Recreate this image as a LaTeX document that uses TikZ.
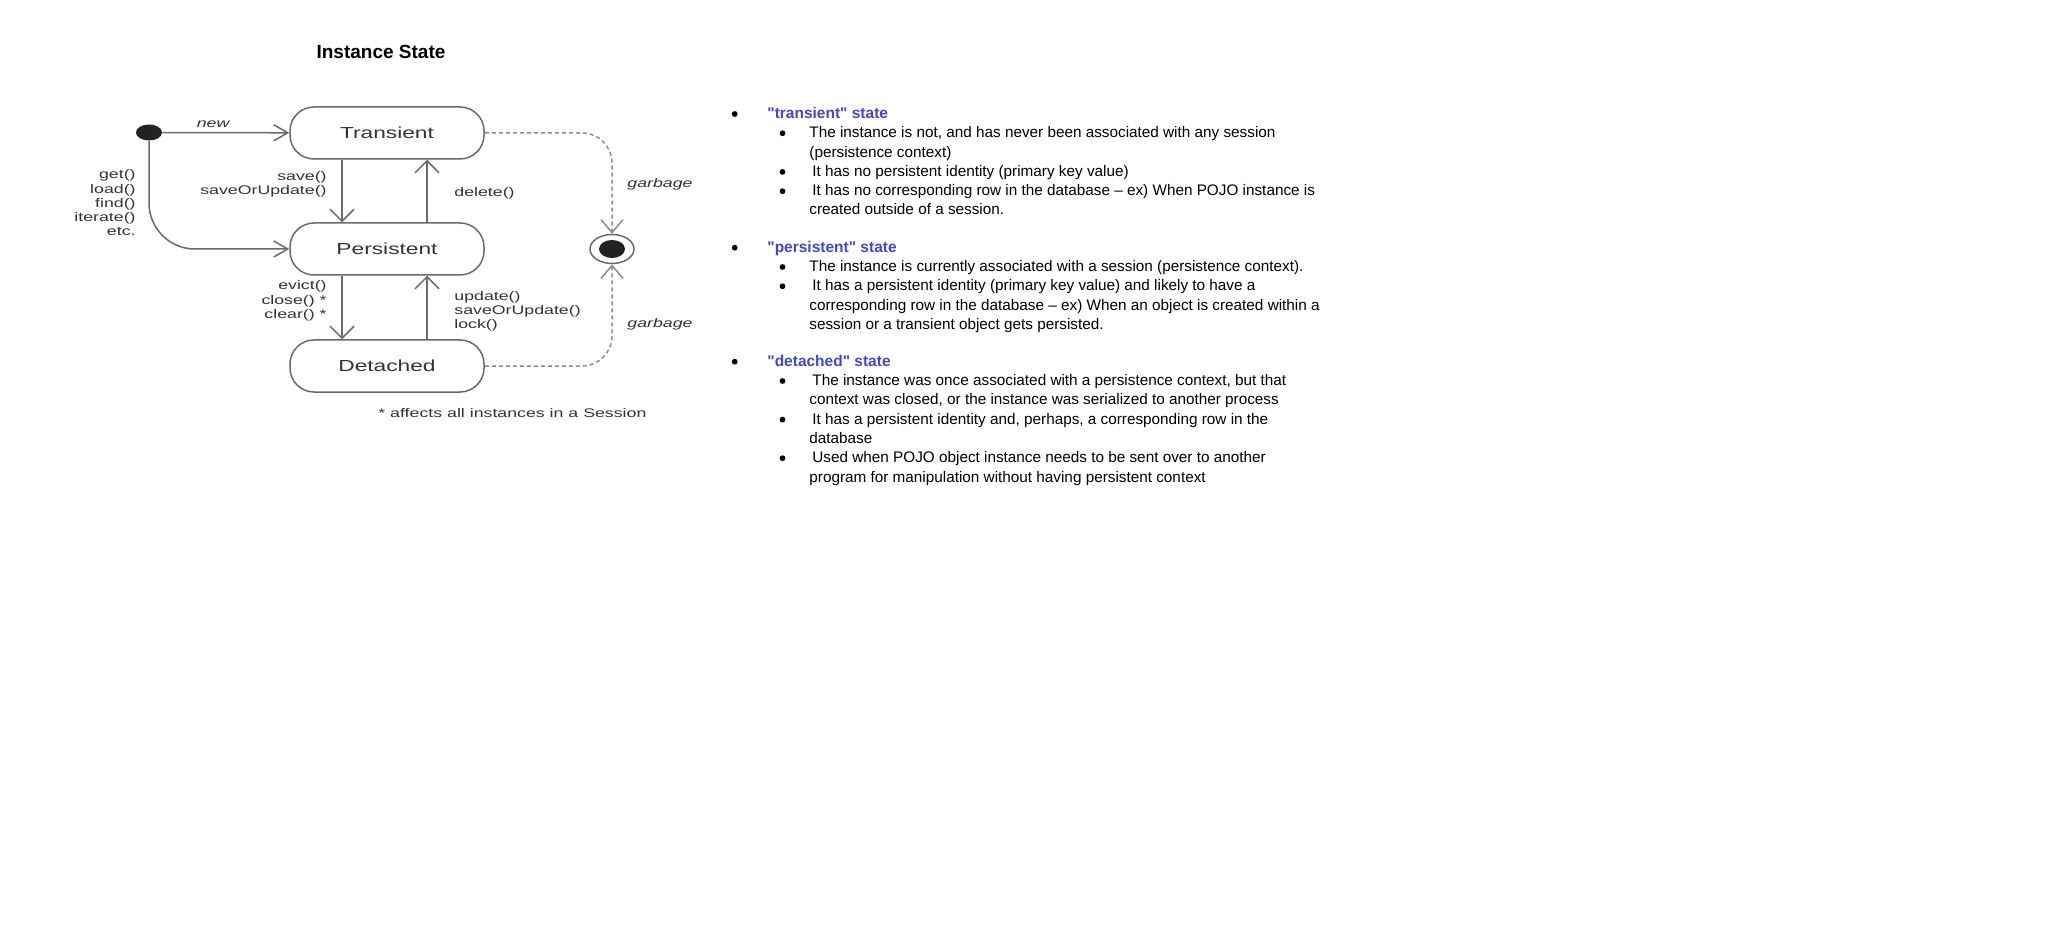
\documentclass[tikz,border=0pt]{standalone}
\usepackage{fontspec}
\setmainfont{Liberation Sans}[Ligatures=TeXOff]
\usetikzlibrary{arrows.meta,shapes.geometric}
\definecolor{stroke}{HTML}{6A6A6A}
\definecolor{ink}{HTML}{333333}
\definecolor{gc}{HTML}{8C8C8C}
\definecolor{blob}{HTML}{222222}
\definecolor{headblue}{RGB}{70,70,200}
\newcommand\wide[1]{\scalebox{1.42}[1]{#1}}
\newcommand\lines[2]{\scalebox{1.42}[1]{\begin{tabular}[t]{@{}#1@{}}#2\end{tabular}}}

\begin{document}
\begin{tikzpicture}[x=0.5pt,y=-0.5pt]
	\tikzset{state/.style={draw=stroke,line width=0.75pt,rounded corners=12pt,minimum width=97pt,minimum height=26pt,inner sep=0pt,text=ink,font=\fontsize{8}{9.6}\selectfont}}
	\tikzset{lbl/.style={inner sep=0pt,text=ink,font=\fontsize{6.25}{7.1}\selectfont}}
	\tikzset{move/.style={draw=stroke,line width=0.75pt,-{Straight Barb[length=6pt,width=12pt]}}}
	\tikzset{enter/.style={draw=stroke,line width=0.75pt,-{Straight Barb[length=7pt,width=8pt]}}}
	\tikzset{gbg/.style={draw=gc,line width=0.75pt,dash pattern=on 2pt off 1.5pt,rounded corners=15pt,-{Straight Barb[length=6.5pt,width=11pt]}}}
	\tikzset{txt/.style={inner sep=0pt,anchor=base west,font=\fontsize{7.65}{9.65}\selectfont}}
	\tikzset{hd/.style={txt,text=headblue,font=\bfseries\fontsize{7.75}{9.65}\selectfont}}
	\tikzset{dot/.style={circle,fill=black,inner sep=0pt,minimum size=2.9pt}}
	\path[fill=white] (0,0) rectangle (2048,930);
	% state diagram
	\node[font=\bfseries\fontsize{9.5}{11}\selectfont,anchor=base] (title) at (381,58.5) {Instance State};
	\node[ellipse,fill=blob,inner sep=0pt,minimum width=13pt,minimum height=8pt] (init) at (149,132.5) {};
	\node[state] (tr) at (387,133) {\wide{Transient}};
	\node[state] (pe) at (387,249) {\wide{Persistent}};
	\node[state] (de) at (387,366) {\wide{Detached}};
	\node[ellipse,draw=stroke,line width=0.75pt,inner sep=0pt,minimum width=22pt,minimum height=14.5pt] (fin) at (612,249) {};
	\fill[blob] (fin.center) ellipse [x radius=6.5pt,y radius=4.5pt];
	\draw[enter] (init) -- node[lbl,above=2.2pt,pos=0.4,font=\itshape\fontsize{6.25}{7.1}\selectfont] (newlbl) {\wide{new}} (tr);
	\draw[enter,rounded corners=23pt] (init.south) |- (pe.west);
	\draw[move] ([xshift=-22.5pt]tr.south) -- ([xshift=-22.5pt]pe.north);
	\draw[move] ([xshift=20pt]pe.north) -- ([xshift=20pt]tr.south);
	\draw[move] ([xshift=-22.5pt]pe.south) -- ([xshift=-22.5pt]de.north);
	\draw[move] ([xshift=20pt]de.north) -- ([xshift=20pt]pe.south);
	\draw[gbg] (tr.east) -| (fin.north);
	\draw[gbg] (de.east) -| (fin.south);
	\node[lbl,anchor=base east] (loadlbl) at (136,179) {\lines{r}{get()\\load()\\find()\\iterate()\\etc.}};
	\node[lbl,anchor=base east] (savelbl) at (327,180.7) {\lines{r}{save()\\saveOrUpdate()}};
	\node[lbl,anchor=base west] (dellbl) at (454,197) {\lines{l}{delete()}};
	\node[lbl,anchor=base east] (evictlbl) at (327,290) {\lines{r}{evict()\\close() *\\clear() *}};
	\node[lbl,anchor=base west] (updlbl) at (454,300) {\lines{l}{update()\\saveOrUpdate()\\lock()}};
	\node[lbl,anchor=base west,font=\itshape\fontsize{6.25}{7.1}\selectfont] (gb1) at (627,188) {\wide{garbage}};
	\node[lbl,anchor=base west,font=\itshape\fontsize{6.25}{7.1}\selectfont] (gb2) at (627,328) {\wide{garbage}};
	\node[lbl,anchor=base west] (note) at (378,417) {\wide{* affects all instances in a Session}};
	% bullet list
	\foreach \y [count=\i] in {118.5,252.2,366.2}
		\node[dot] (hb\i) at (734.7,\y-4.5) {};
	\foreach \y [count=\i] in {137.8,176.4,195.7,271.5,290.8,385.5,424.1,462.7}
		\node[dot] (ib\i) at (782.5,\y-4.5) {};
	\node[hd] (h1) at (767,118.5) {"transient" state};
	\node[hd] (h2) at (767,252.2) {"persistent" state};
	\node[hd] (h3) at (767,366.2) {"detached" state};
	\node[txt] (t1) at (809,137.8) {\begin{tabular}[t]{@{}l@{}}The instance is not, and has never been associated with any session\\(persistence context)\end{tabular}};
	\node[txt] (t2) at (809,176.4) {\hspace{1.5pt}It has no persistent identity (primary key value)};
	\node[txt] (t3) at (809,195.7) {\begin{tabular}[t]{@{}l@{}}\hspace{1.5pt}It has no corresponding row in the database – ex) When POJO instance is\\created outside of a session.\end{tabular}};
	\node[txt] (p1) at (809,271.5) {The instance is currently associated with a session (persistence context).};
	\node[txt] (p2) at (809,290.8) {\begin{tabular}[t]{@{}l@{}}\hspace{1.5pt}It has a persistent identity (primary key value) and likely to have a\\corresponding row in the database – ex) When an object is created within a\\session or a transient object gets persisted.\end{tabular}};
	\node[txt] (d1) at (809,385.5) {\begin{tabular}[t]{@{}l@{}}\hspace{1.5pt}The instance was once associated with a persistence context, but that\\context was closed, or the instance was serialized to another process\end{tabular}};
	\node[txt] (d2) at (809,424.1) {\begin{tabular}[t]{@{}l@{}}\hspace{1.5pt}It has a persistent identity and, perhaps, a corresponding row in the\\database\end{tabular}};
	\node[txt] (d3) at (809,462.7) {\begin{tabular}[t]{@{}l@{}}\hspace{1.5pt}Used when POJO object instance needs to be sent over to another\\program for manipulation without having persistent context\end{tabular}};
\end{tikzpicture}
\end{document}
